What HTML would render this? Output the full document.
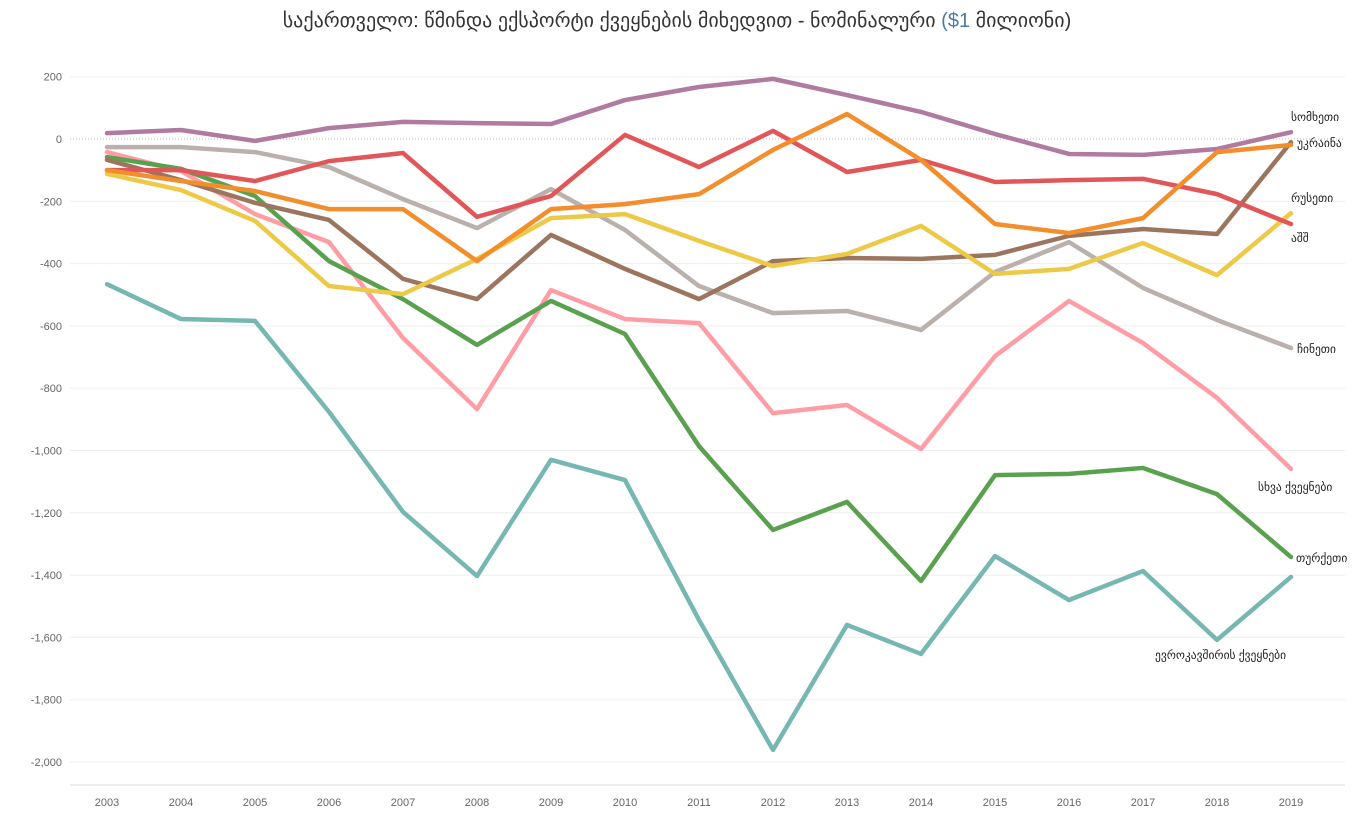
<!DOCTYPE html>
<html><head><meta charset="utf-8"><style>
body{margin:0;background:#fff;font-family:"Liberation Sans","DejaVu Sans",sans-serif}
svg text{font-family:"Liberation Sans","DejaVu Sans",sans-serif}
</style></head><body>
<svg id="c" width="1353" height="816">
<text x="677" y="27" text-anchor="middle" font-size="20" fill="#333">საქართველო: წმინდა ექსპორტი ქვეყნების მიხედვით - ნომინალური <tspan fill="#4e79a7">($1</tspan> მილიონი)</text>
</svg>
<script>
const years=[2003,2004,2005,2006,2007,2008,2009,2010,2011,2012,2013,2014,2015,2016,2017,2018,2019];
const yTicks=[200,0,-200,-400,-600,-800,-1000,-1200,-1400,-1600,-1800,-2000];
const armenia=[19,29,-6,35,55,51,48,125,167,193,141,87,16,-48,-51,-32,22];
const usa=[-100,-100,-135,-71,-45,-250,-183,13,-90,26,-106,-67,-138,-132,-128,-177,-273];
const ukraine=[-100,-135,-167,-225,-225,-392,-225,-209,-177,-35,80,-67,-273,-302,-254,-42,-19];
const brown=[-67,-132,-205,-260,-449,-514,-308,-417,-514,-392,-382,-385,-372,-311,-289,-305,-10];
const yellow=[-112,-164,-263,-472,-498,-385,-254,-241,-327,-408,-369,-279,-433,-417,-334,-437,-238];
const china=[-26,-26,-42,-90,-193,-286,-161,-292,-472,-559,-552,-613,-427,-331,-478,-581,-671];
const other=[-42,-103,-241,-331,-639,-867,-485,-578,-591,-880,-854,-995,-697,-520,-655,-831,-1059];
const turkey=[-58,-96,-183,-392,-514,-661,-520,-626,-986,-1255,-1165,-1419,-1079,-1075,-1056,-1140,-1342];
const eu=[-466,-578,-584,-876,-1197,-1403,-1030,-1095,-1544,-1961,-1560,-1653,-1339,-1480,-1387,-1608,-1406];
const labels=[["სომხეთი",1291,121],["უკრაინა",1297,147],["რუსეთი",1291,202],["აშშ",1291,242],["ჩინეთი",1297,353],["სხვა ქვეყნები",1258,491],["თურქეთი",1296,562],["ევროკავშირის ქვეყნები",1155,659]];
const NS="http://www.w3.org/2000/svg";
const svg=document.getElementById('c');
const X=yr=>107+(yr-2003)*74;
const Y=v=>139-v*0.3115;
function mk(t,a){const e=document.createElementNS(NS,t);for(const k in a)e.setAttribute(k,a[k]);svg.appendChild(e);return e;}
yTicks.forEach(v=>{
 const g=mk('line',{x1:70,x2:1345,y1:Y(v),y2:Y(v),stroke:v===0?'#bbb':'#eee','stroke-width':1,'stroke-dasharray':v===0?'1,2':'none'});
 
 
 const t=mk('text',{x:62,y:Y(v)+4,'text-anchor':'end','font-size':11,fill:'#666'});
 t.textContent=v.toLocaleString('en-US');
 
 
});
mk('line',{x1:70,x2:1345,y1:785,y2:785,stroke:'#ddd'});
years.forEach(yr=>{
 const t=mk('text',{x:X(yr),y:806,'text-anchor':'middle','font-size':11,fill:'#666'});
 t.textContent=yr;
 
 
});
const series=[[armenia,'#b07aa1','armenia'],[china,'#bab0ac','china'],[other,'#ff9da7','other-countries'],[eu,'#76b7b2','eu'],[turkey,'#59a14f','turkey'],[brown,'#9c755f','russia'],[yellow,'#edc948','yellow-series'],[usa,'#e15759','usa'],[ukraine,'#f28e2b','ukraine']];
series.forEach(([d,c,n])=>{
 const p=mk('polyline',{points:d.map((v,i)=>X(years[i])+','+Y(v)).join(' '),fill:'none',stroke:c,'stroke-width':4.5,'stroke-linejoin':'round','stroke-linecap':'round'});
 
 
});
labels.forEach(([s,x,y])=>{
 const t=mk('text',{x:x,y:y,'font-size':11.5,fill:'#222'});
 t.textContent=s;
 
 
});
</script>
</body></html>
